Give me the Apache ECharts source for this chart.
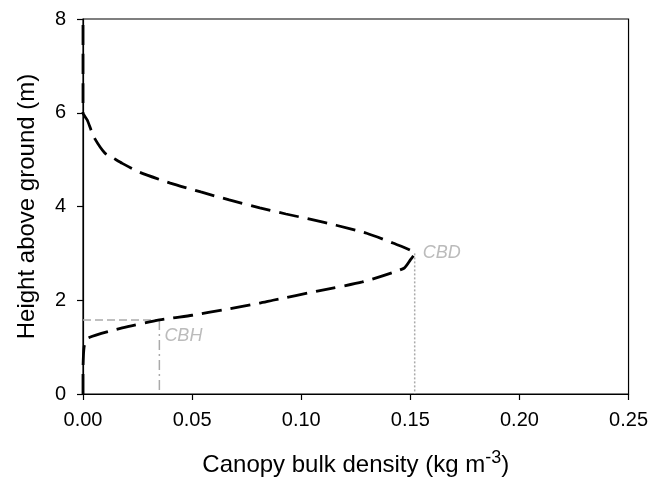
<!DOCTYPE html>
<html><head><meta charset="utf-8">
<script src="https://cdn.jsdelivr.net/npm/echarts@6/dist/echarts.min.js"></script>
<style>html,body{margin:0;padding:0;background:#fff}#c{width:651px;height:483px}</style>
</head><body><div id="c"></div>
<script>
// Canopy bulk density profile: [density (kg m-3), height (m)]
var profileDensity = [0, 0, 0.0005, 0.002, 0.018, 0.035, 0.050, 0.065, 0.081, 0.087, 0.108, 0.128, 0.147, 0.150, 0.152,
  0.142, 0.130, 0.116, 0.105, 0.093, 0.081, 0.067, 0.054, 0.040, 0.026, 0.018, 0.014, 0.010, 0.005, 0.002, 0, 0];
var profileHeight = [0, 0.5, 1.0, 1.19, 1.41, 1.58, 1.68, 1.80, 1.94, 2.0, 2.2, 2.39, 2.68, 2.86, 3.0,
  3.22, 3.43, 3.60, 3.72, 3.84, 3.97, 4.14, 4.31, 4.50, 4.73, 4.92, 5.03, 5.14, 5.48, 5.84, 6.0, 8.0];
var cbdValue = 0.152, cbdHeight = 3.0;
var cbhValue = 0.035, cbhHeight = 1.58;
var xTicks = [0, 0.05, 0.10, 0.15, 0.20, 0.25];
var yTicks = [0, 2, 4, 6, 8];

var profile = profileDensity.map(function (d, i) { return [d, profileHeight[i]]; });
var chart = echarts.init(document.getElementById('c'));
var font = 'Liberation Sans, Arial, sans-serif';
var gray = '#aaaaaa';
chart.setOption({
  animation: false,
  grid: { left: 83, right: 22, top: 19, bottom: 89, show: true, borderColor: '#000', borderWidth: 1.2 },
  xAxis: {
    type: 'value', min: xTicks[0], max: xTicks[xTicks.length - 1], interval: 0.05,
    axisLine: { show: true, lineStyle: { color: '#000', width: 1.2 } },
    axisTick: { show: true, inside: false, length: 6, lineStyle: { color: '#000', width: 1.2 } },
    splitLine: { show: false },
    axisLabel: { color: '#000', fontSize: 20, fontFamily: font, margin: 16, formatter: function (v) { return v.toFixed(2); } },
    name: '{a|Canopy bulk density (kg m}{s|-3}{a|)}', nameLocation: 'middle', nameGap: 55,
    nameTextStyle: { rich: { a: { fontSize: 24, fontFamily: font, color: '#000' }, s: { fontSize: 18, fontFamily: font, color: '#000', verticalAlign: 'top', padding: [0, 0, 14, 0] } } }
  },
  yAxis: {
    type: 'value', min: yTicks[0], max: yTicks[yTicks.length - 1], interval: 2,
    axisLine: { show: true, lineStyle: { color: '#000', width: 1.2 } },
    axisTick: { show: true, inside: false, length: 6, lineStyle: { color: '#000', width: 1.2 } },
    splitLine: { show: false },
    axisLabel: { color: '#000', fontSize: 20, fontFamily: font, margin: 17 },
    name: 'Height above ground (m)', nameLocation: 'middle', nameGap: 44,
    nameTextStyle: { fontSize: 24, fontFamily: font, color: '#000' }
  },
  series: [
    { type: 'line', data: [[cbdValue, cbdHeight], [cbdValue, 0]], symbol: 'none', silent: true,
      lineStyle: { color: gray, width: 1.5, type: [2, 2] } },
    { type: 'line', data: [[0, cbhHeight], [cbhValue, cbhHeight]], symbol: 'none', silent: true,
      lineStyle: { color: gray, width: 1.5, type: [8, 4] } },
    { type: 'line', data: [[cbhValue, cbhHeight], [cbhValue, 0]], symbol: 'none', silent: true,
      lineStyle: { color: gray, width: 1.5, type: [10, 4, 2, 4] } },
    { type: 'line', data: profile, symbol: 'none', smooth: 0.2, silent: true,
      lineStyle: { color: '#000', width: 2.8, type: [20, 9] } },
    { type: 'scatter', symbolSize: 0, silent: true,
      data: [{ value: [cbdValue, cbdHeight], name: 'CBD', label: { position: 'right', offset: [3, 0] } },
             { value: [cbhValue, cbhHeight], name: 'CBH', label: { position: 'right', offset: [0, 16] } }],
      label: { show: true, formatter: '{b}', color: gray, fontSize: 18, fontStyle: 'italic', fontFamily: font } }
  ]
});
</script></body></html>
